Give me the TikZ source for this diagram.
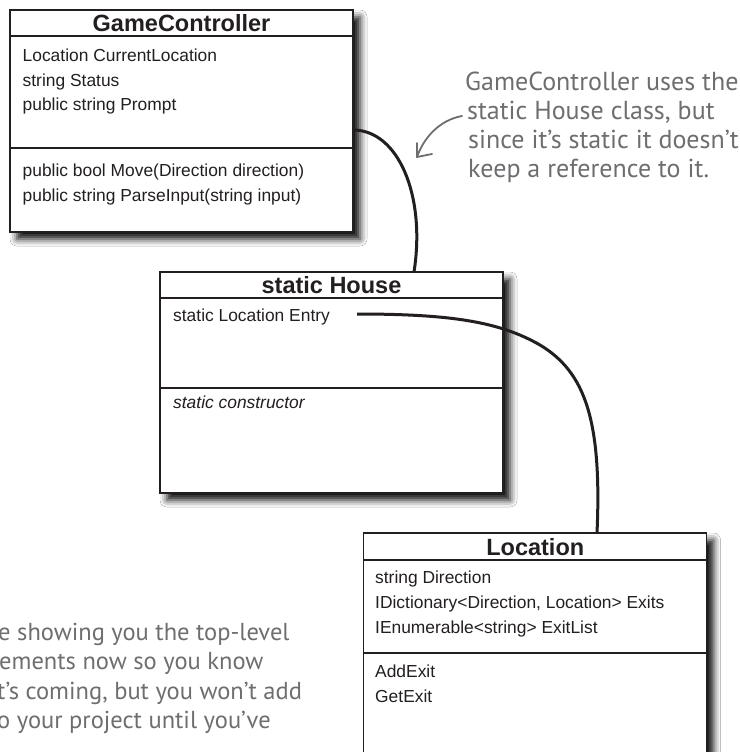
\documentclass[tikz,border=0pt]{standalone}
\usepackage{fontspec}
\setmainfont{Liberation Sans}
\newfontfamily\notefont{PT Sans}
\usetikzlibrary{shadows.blur}
\definecolor{ink}{HTML}{231F20}
\definecolor{notegray}{HTML}{6D6E70}
\begin{document}
\begin{tikzpicture}[x=1pt,y=-1pt,
  umlbox/.style={draw=ink, line width=1.4pt, fill=white, inner sep=0pt, outer sep=0pt,
    minimum width=343pt, anchor=north west,
    blur shadow={shadow xshift=7pt, shadow yshift=-7pt, shadow blur radius=7pt, shadow opacity=95}},
  divider/.style={draw=ink, line width=1.2pt},
  boxtitle/.style={anchor=base, inner sep=0pt, text=ink,
    font=\fontsize{23.5}{28}\selectfont\bfseries},
  member/.style={anchor=base west, inner sep=0pt, text=ink,
    font=\fontsize{17.4}{20}\selectfont},
  link/.style={draw=ink, line width=3pt},
  note/.style={anchor=base west, inner sep=0pt, text=notegray,
    font=\notefont\fontsize{26}{30}\selectfont},
  sidenote/.style={note, font=\notefont\fontsize{24.5}{29}\selectfont},
  pointer/.style={draw=notegray, line width=1.8pt, line cap=round, line join=round},
]
\useasboundingbox (0,0) rectangle (739,752);
\fill[white] (0,0) rectangle (739,752);
\clip (0,0) rectangle (739,752);

% ---- GameController ----
\node[umlbox, minimum height=222pt] (gc) at (10,10) {};
\draw[divider] (10,36) -- (353,36);
\draw[divider] (10,148) -- (353,148);
\node[boxtitle] (gctitle) at (181.5,31.5) {GameController};
\node[member] (gcf1) at (22.5,61.5) {Location CurrentLocation};
\node[member] (gcf2) at (22.5,86) {string Status};
\node[member] (gcf3) at (22.5,110.5) {public string Prompt};
\node[member] (gcm1) at (22.5,176.5) {public bool Move(Direction direction)};
\node[member] (gcm2) at (22.5,201) {public string ParseInput(string input)};

% ---- static House ----
\node[umlbox, minimum height=221pt] (house) at (160,272) {};
\draw[divider] (160,298) -- (503,298);
\draw[divider] (160,388) -- (503,388);
\node[boxtitle] (housetitle) at (331.5,293.5) {static House};
\node[member] (entry) at (173,321.5) {static Location Entry};
\node[member] (ctor) at (173,408) {\itshape static constructor};

% ---- Location ----
\node[umlbox, minimum height=300pt] (loc) at (363.5,533) {};
\draw[divider] (363.5,560) -- (707,560);
\draw[divider] (363.5,653) -- (707,653);
\node[boxtitle] (loctitle) at (535.25,555) {Location};
\node[member] (locf1) at (375,583) {string Direction};
\node[member] (locf2) at (375,608) {IDictionary<Direction, Location> Exits};
\node[member] (locf3) at (375,633) {IEnumerable<string> ExitList};
\node[member] (locm1) at (375,677) {AddExit};
\node[member] (locm2) at (375,702) {GetExit};

% ---- associations ----
\draw[link] ([yshift=-9pt]gc.east) .. controls +(45,0) and +(12,-77) .. ([xshift=82.5pt]house.north);
\draw[link] ([xshift=27pt,yshift=3pt]entry.east)
  .. controls +(95,0) and +(-40,-23) .. (540,345)
  .. controls +(45,27) and +(5,-113) .. ([xshift=62pt]loc.north);

% ---- handwritten notes ----
\node[note] (n1) at (465,90) {GameController uses the};
\node[note] (n2) at (467,119) {static House class, but};
\node[note] (n3) at (468,148) {since it’s static it doesn’t};
\node[note] (n4) at (468,177) {keep a reference to it.};
\coordinate (ptrfrom) at (462,116);
\coordinate (ptrto) at (417,157);
\draw[pointer] (ptrfrom) .. controls (440,120) and (424,137) .. (ptrto);
\draw[pointer] ([shift={(0,-14)}]ptrto) -- (ptrto) -- ([shift={(15,-3)}]ptrto);

\node[sidenote] (b1) at (-2,640) {e showing you the top-level};
\node[sidenote] (b2) at (-1,669) {ements now so you know};
\node[sidenote] (b3) at (-3,699) {t’s coming, but you won’t add};
\node[sidenote] (b4) at (-3,728) {o your project until you’ve};
\end{tikzpicture}
\end{document}
